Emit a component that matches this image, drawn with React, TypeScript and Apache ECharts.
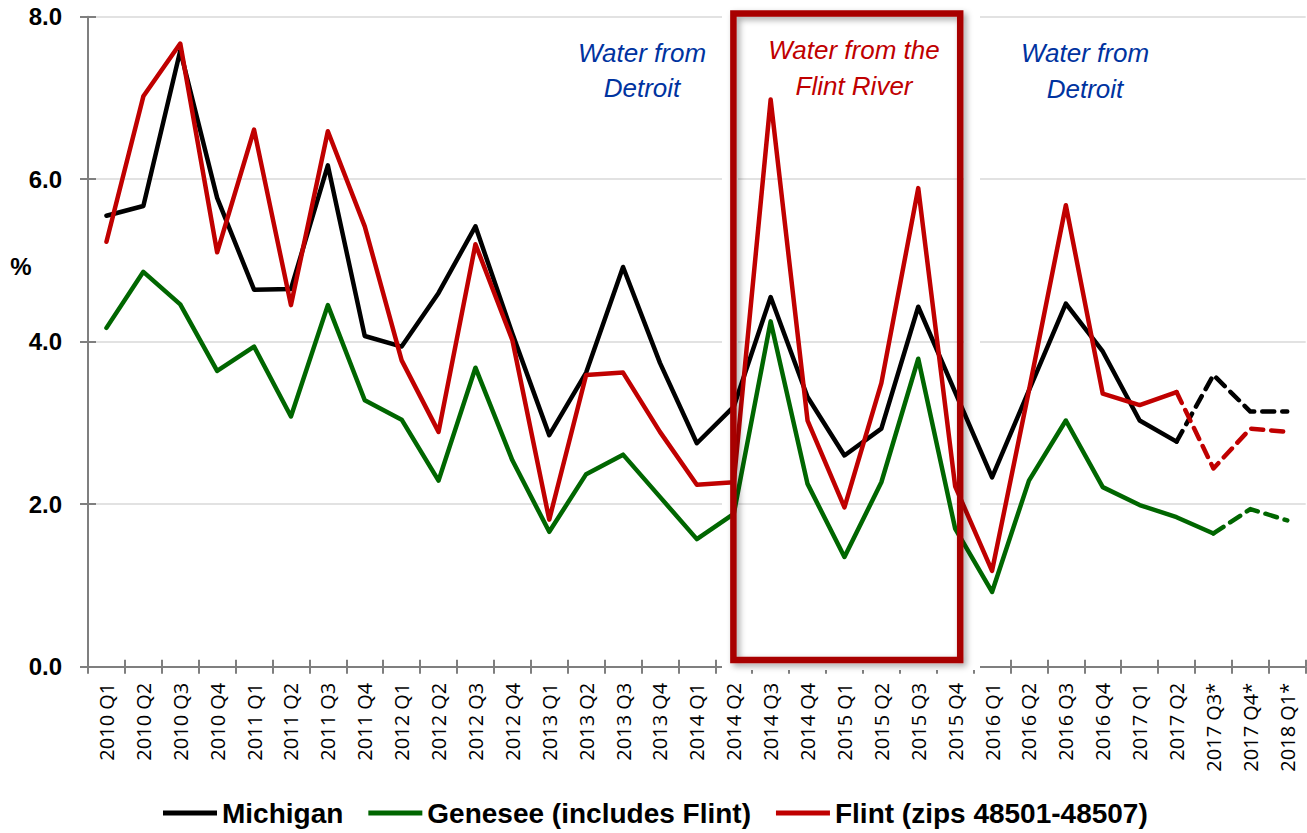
import React, { useEffect, useRef } from "react";
import * as echarts from "echarts";

const categories: string[] = [
  "2010 Q1", "2010 Q2", "2010 Q3", "2010 Q4",
  "2011 Q1", "2011 Q2", "2011 Q3", "2011 Q4",
  "2012 Q1", "2012 Q2", "2012 Q3", "2012 Q4",
  "2013 Q1", "2013 Q2", "2013 Q3", "2013 Q4",
  "2014 Q1", "2014 Q2", "2014 Q3", "2014 Q4",
  "2015 Q1", "2015 Q2", "2015 Q3", "2015 Q4",
  "2016 Q1", "2016 Q2", "2016 Q3", "2016 Q4",
  "2017 Q1", "2017 Q2", "2017 Q3*", "2017 Q4*", "2018 Q1*",
];

const michigan: number[] = [
  5.55, 5.67, 7.58, 5.77, 4.64, 4.65, 6.17, 4.07, 3.94, 4.6, 5.42, 4.1,
  2.85, 3.62, 4.92, 3.74, 2.75, 3.2, 4.55, 3.32, 2.6, 2.93, 4.43, 3.38,
  2.33, 3.4, 4.47, 3.88, 3.03, 2.77, 3.59, 3.14, 3.14,
];
const genesee: number[] = [
  4.17, 4.86, 4.46, 3.64, 3.94, 3.08, 4.45, 3.28, 3.04, 2.29, 3.68, 2.54,
  1.66, 2.37, 2.61, 2.09, 1.57, 1.88, 4.25, 2.25, 1.35, 2.27, 3.79, 1.7,
  0.92, 2.29, 3.03, 2.21, 1.99, 1.84, 1.64, 1.94, 1.8,
];
const flint: number[] = [
  5.23, 7.02, 7.67, 5.1, 6.61, 4.45, 6.59, 5.42, 3.77, 2.89, 5.2, 4.02,
  1.81, 3.59, 3.62, 2.89, 2.24, 2.27, 6.98, 3.03, 1.96, 3.49, 5.89, 2.22,
  1.18, 3.4, 5.68, 3.36, 3.22, 3.38, 2.44, 2.93, 2.89,
];

// index where the dashed (projected) part of each line starts
const michiganDashFrom = 29;
const geneseeDashFrom = 30;
const flintDashFrom = 29;

const seriesNames = ["Michigan", "Genesee (includes Flint)", "Flint (zips 48501-48507)"];
const seriesColors = ["#000000", "#006600", "#C00000"];
const yTicks = { min: 0, max: 8, interval: 2 };

const solidPart = (arr: number[], from: number) =>
  arr.map((v, i) => (i <= from ? v : null));
const dashPart = (arr: number[], from: number) =>
  arr.map((v, i) => (i >= from ? v : null));

export default function App() {
  const ref = useRef<HTMLDivElement>(null);

  useEffect(() => {
    if (!ref.current) return;
    const chart = echarts.init(ref.current, undefined, { renderer: "svg" });

    const mk = (name: string, color: string, data: (number | null)[], dashed: boolean, z: number) => ({
      name,
      type: "line",
      data,
      symbol: "none",
      showSymbol: false,
      connectNulls: false,
      z,
      lineStyle: {
        color,
        width: 4.5,
        type: dashed ? [12, 8] : "solid",
        cap: "round",
        join: "round",
      },
      itemStyle: { color },
      emphasis: { disabled: true },
    });

    const axisGrey = "#7f7f7f";
    const labelFont = "'Open Sans', 'Liberation Sans', sans-serif";
    const boldFont = "'Liberation Sans', Arial, sans-serif";

    chart.setOption({
      animation: false,
      backgroundColor: "#ffffff",
      grid: { left: 88, right: 1.3, top: 16.7, bottom: 166.3, containLabel: false },
      legend: {
        data: seriesNames,
        left: 163,
        top: 799,
        padding: 0,
        icon: "rect",
        itemWidth: 54,
        itemHeight: 5,
        itemGap: 25,
        textStyle: { fontSize: 28, fontWeight: "bold", fontFamily: boldFont, color: "#000" },
      },
      xAxis: [
        {
          type: "category",
          data: categories,
          boundaryGap: true,
          position: "bottom",
          axisLine: { show: true, lineStyle: { color: axisGrey, width: 2 } },
          axisTick: { show: true, interval: 0, length: 7, lineStyle: { color: axisGrey, width: 2 } },
          axisLabel: {
            interval: 0,
            rotate: 90,
            margin: 16,
            fontSize: 20,
            fontFamily: labelFont,
            color: "#000",
          },
          splitLine: { show: false },
        },
        {
          type: "category",
          data: categories,
          boundaryGap: true,
          position: "bottom",
          axisLine: { show: false },
          axisTick: { show: true, inside: true, interval: 0, length: 7, lineStyle: { color: axisGrey, width: 2 } },
          axisLabel: { show: false },
          splitLine: { show: false },
        },
      ],
      yAxis: [
        {
          type: "value",
          min: yTicks.min,
          max: yTicks.max,
          interval: yTicks.interval,
          position: "left",
          axisLine: { show: true, lineStyle: { color: axisGrey, width: 2 } },
          axisTick: { show: true, length: 8, lineStyle: { color: axisGrey, width: 2 } },
          axisLabel: {
            margin: 26,
            fontSize: 24,
            fontWeight: "bold",
            fontFamily: boldFont,
            color: "#000",
            formatter: (v: number) => v.toFixed(1),
          },
          splitLine: { show: true, lineStyle: { color: "#d9d9d9", width: 1.5 } },
        },
        {
          type: "value",
          min: yTicks.min,
          max: yTicks.max,
          interval: yTicks.interval,
          position: "left",
          axisLine: { show: false },
          axisTick: { show: true, inside: true, length: 8, lineStyle: { color: axisGrey, width: 2 } },
          axisLabel: { show: false },
          splitLine: { show: false },
        },
      ],
      series: [
        mk(seriesNames[0], seriesColors[0], solidPart(michigan, michiganDashFrom), false, 2),
        mk(seriesNames[0], seriesColors[0], dashPart(michigan, michiganDashFrom), true, 2),
        mk(seriesNames[1], seriesColors[1], solidPart(genesee, geneseeDashFrom), false, 3),
        mk(seriesNames[1], seriesColors[1], dashPart(genesee, geneseeDashFrom), true, 3),
        mk(seriesNames[2], seriesColors[2], solidPart(flint, flintDashFrom), false, 4),
        mk(seriesNames[2], seriesColors[2], dashPart(flint, flintDashFrom), true, 4),
      ],
      graphic: [
        {
          type: "rect",
          z: 1,
          silent: true,
          shape: { x: 730, y: 11, width: 242, height: 651 },
          style: { fill: "none", stroke: "#ffffff", lineWidth: 16 },
        },
        {
          type: "rect",
          z: 100,
          silent: true,
          shape: { x: 733.4, y: 13.4, width: 226.8, height: 646.6 },
          style: {
            fill: "none",
            stroke: "#A80000",
            lineWidth: 6.5,
            shadowBlur: 6,
            shadowColor: "rgba(0,0,0,0.35)",
            shadowOffsetX: 3,
            shadowOffsetY: 3,
          },
        },
        {
          type: "text",
          z: 101,
          silent: true,
          x: 642,
          y: 70,
          style: {
            text: "Water from\nDetroit",
            fill: "#0033A0",
            font: "italic 26px 'Liberation Sans', Arial, sans-serif",
            align: "center",
            verticalAlign: "middle",
            lineHeight: 35,
          },
        },
        {
          type: "text",
          z: 101,
          silent: true,
          x: 854,
          y: 68,
          style: {
            text: "Water from the\nFlint River",
            fill: "#C00000",
            font: "italic 26px 'Liberation Sans', Arial, sans-serif",
            align: "center",
            verticalAlign: "middle",
            lineHeight: 36,
          },
        },
        {
          type: "text",
          z: 101,
          silent: true,
          x: 1085,
          y: 71,
          style: {
            text: "Water from\nDetroit",
            fill: "#0033A0",
            font: "italic 26px 'Liberation Sans', Arial, sans-serif",
            align: "center",
            verticalAlign: "middle",
            lineHeight: 36,
          },
        },
        {
          type: "text",
          z: 101,
          silent: true,
          x: 21,
          y: 266,
          style: {
            text: "%",
            fill: "#000",
            font: "bold 24px 'Liberation Sans', Arial, sans-serif",
            align: "center",
            verticalAlign: "middle",
          },
        },
      ],
    });

    return () => chart.dispose();
  }, []);

  return (
    <div
      ref={ref}
      style={{ position: "fixed", left: 0, top: 0, width: 1307, height: 833, background: "#fff" }}
    />
  );
}
